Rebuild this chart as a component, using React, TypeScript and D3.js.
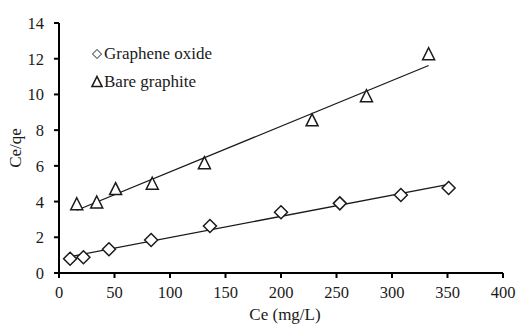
import React from "react";
import * as d3 from "d3";

// Graphene oxide: Ce (mg/L) vs Ce/qe
const goCe = [10, 22, 45, 83, 136, 200, 253, 308, 351];
const goRatio = [0.8, 0.88, 1.33, 1.85, 2.63, 3.4, 3.9, 4.37, 4.76];
// Bare graphite
const bgCe = [16, 34, 51, 84, 131, 228, 277, 333];
const bgRatio = [3.85, 3.95, 4.7, 5.0, 6.15, 8.55, 9.9, 12.25];

const xTicks = [0, 50, 100, 150, 200, 250, 300, 350, 400];
const yTicks = [0, 2, 4, 6, 8, 10, 12, 14];

const seriesNames = ["Graphene oxide", "Bare graphite"];

const W = 517;
const H = 325;
const FONT = "'Liberation Serif', 'Times New Roman', serif";
const INK = "#1a1a1a";

function fit(xs: number[], ys: number[]) {
  const n = xs.length;
  const mx = d3.mean(xs)!;
  const my = d3.mean(ys)!;
  let sxy = 0;
  let sxx = 0;
  for (let i = 0; i < n; i++) {
    sxy += (xs[i] - mx) * (ys[i] - my);
    sxx += (xs[i] - mx) ** 2;
  }
  const b = sxy / sxx;
  return { a: my - b * mx, b };
}

export default function App() {
  const x = d3.scaleLinear().domain([0, 400]).range([59, 503]);
  const y = d3.scaleLinear().domain([0, 14]).range([273, 23]);

  const goFit = fit(goCe, goRatio);
  const bgFit = fit(bgCe, bgRatio);
  const goX = d3.extent(goCe) as [number, number];
  const bgX = d3.extent(bgCe) as [number, number];

  const diamond = (cx: number, cy: number, r = 6.5) =>
    `M${cx},${cy - r}L${cx + r},${cy}L${cx},${cy + r}L${cx - r},${cy}Z`;
  const triangle = (cx: number, cy: number, w = 12, h = 11) =>
    `M${cx},${cy - h / 2 - 1}L${cx + w / 2},${cy + h / 2}L${cx - w / 2},${cy + h / 2}Z`;

  const txt = { fontFamily: FONT, fill: INK } as const;

  return (
    <svg
      width={W}
      height={H}
      style={{ position: "absolute", left: 0, top: 0, background: "#fff" }}
    >
      {/* regression lines */}
      <line
        x1={x(goX[0])}
        y1={y(goFit.a + goFit.b * goX[0])}
        x2={x(goX[1])}
        y2={y(goFit.a + goFit.b * goX[1])}
        stroke={INK}
        strokeWidth={1.3}
      />
      <line
        x1={x(bgX[0])}
        y1={y(bgFit.a + bgFit.b * bgX[0])}
        x2={x(bgX[1])}
        y2={y(bgFit.a + bgFit.b * bgX[1])}
        stroke={INK}
        strokeWidth={1.3}
      />

      {/* markers */}
      {goCe.map((c, i) => (
        <path
          key={`go${i}`}
          d={diamond(x(c), y(goRatio[i]))}
          fill="#fff"
          stroke={INK}
          strokeWidth={1.5}
        />
      ))}
      {bgCe.map((c, i) => (
        <path
          key={`bg${i}`}
          d={triangle(x(c), y(bgRatio[i]))}
          fill="#fff"
          stroke={INK}
          strokeWidth={1.5}
        />
      ))}

      {/* axes */}
      <line x1={x(0)} y1={y(0)} x2={x(400)} y2={y(0)} stroke="#000" strokeWidth={2} />
      <line x1={x(0)} y1={y(0)} x2={x(0)} y2={y(14)} stroke="#000" strokeWidth={2} />
      {xTicks.map((t) => (
        <g key={`xt${t}`}>
          <line x1={x(t)} x2={x(t)} y1={y(0)} y2={y(0) + 5} stroke="#000" strokeWidth={2} />
          <text x={x(t)} y={298} textAnchor="middle" fontSize={16.5} style={txt}>
            {t}
          </text>
        </g>
      ))}
      {yTicks.map((t) => (
        <g key={`yt${t}`}>
          <line x1={x(0) - 5} x2={x(0)} y1={y(t)} y2={y(t)} stroke="#000" strokeWidth={2} />
          <text x={44} y={y(t) + 6} textAnchor="end" fontSize={16.5} style={txt}>
            {t}
          </text>
        </g>
      ))}

      {/* axis titles */}
      <text x={285} y={320} textAnchor="middle" fontSize={17} style={txt}>
        Ce (mg/L)
      </text>
      <text
        transform={`translate(21,148) rotate(-90)`}
        textAnchor="middle"
        fontSize={17}
        style={txt}
      >
        Ce/qe
      </text>

      {/* legend */}
      <path d={diamond(97, 54, 4.5)} fill="#fff" stroke={INK} strokeWidth={1} />
      <text x={104} y={59} fontSize={17} style={txt}>
        {seriesNames[0]}
      </text>
      <path d={triangle(97, 82, 10, 9)} fill="#fff" stroke={INK} strokeWidth={1.6} />
      <text x={104} y={87} fontSize={17} style={txt}>
        {seriesNames[1]}
      </text>
    </svg>
  );
}
